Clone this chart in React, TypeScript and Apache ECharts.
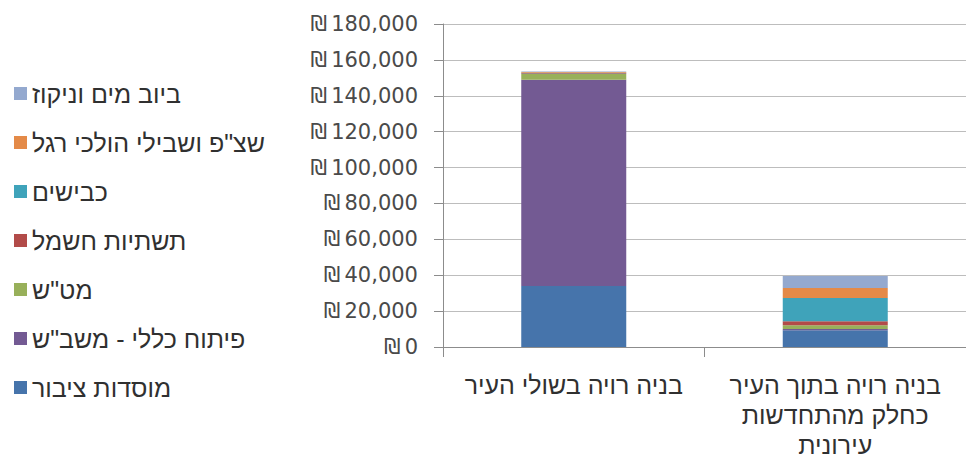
import React, { useEffect, useRef } from "react";
import * as echarts from "echarts";

const categories = [
  "בניה רויה בשולי העיר",
  "בניה רויה בתוך העיר\nכחלק מהתחדשות\nעירונית",
];

const seriesNames = [
  "מוסדות ציבור",
  "פיתוח כללי - משב\"ש",
  "מט\"ש",
  "תשתיות חשמל",
  "כבישים",
  "שצ\"פ ושבילי הולכי רגל",
  "ביוב מים וניקוז",
];

const publicInstitutions = [34000, 9300];
const generalDevelopment = [114900, 800];
const sewageTreatment = [3300, 2000];
const electricity = [300, 2200];
const roads = [300, 13000];
const openSpaces = [400, 5600];
const waterSewage = [300, 6600];

const seriesValues = [
  publicInstitutions,
  generalDevelopment,
  sewageTreatment,
  electricity,
  roads,
  openSpaces,
  waterSewage,
];

const colors = ["#4674AB", "#735A93", "#98B05A", "#B24B49", "#3FA3BA", "#E48A48", "#94A9CF"];

const yMin = 0;
const yMax = 180000;
const yInterval = 20000;

const HEB = "'Liberation Sans', Arial, sans-serif";
const NUM = "'DejaVu Sans', sans-serif";

export default function App() {
  const ref = useRef<HTMLDivElement>(null);

  useEffect(() => {
    if (!ref.current) return;
    const chart = echarts.init(ref.current, undefined, { renderer: "svg" });
    chart.setOption({
      animation: false,
      backgroundColor: "#ffffff",
      color: colors,
      textStyle: { fontFamily: HEB },
      legend: {
        orient: "vertical",
        left: 14,
        top: 81,
        padding: 0,
        icon: "rect",
        itemWidth: 13,
        itemHeight: 13,
        itemGap: 24,
        data: [...seriesNames].reverse(),
        textStyle: {
          fontFamily: HEB,
          fontSize: 25,
          lineHeight: 24,
          color: "#303030",
        },
      },
      grid: {
        left: 443,
        top: 24,
        width: 528,
        bottom: 108,
        containLabel: false,
      },
      xAxis: {
        type: "category",
        data: categories,
        axisLine: { lineStyle: { color: "#8c8c8c", width: 1 } },
        axisTick: { show: true, length: 10, lineStyle: { color: "#8c8c8c" } },
        axisLabel: {
          interval: 0,
          margin: 23,
          fontFamily: HEB,
          fontSize: 25,
          lineHeight: 30,
          color: "#303030",
          align: "center",
        },
        splitLine: { show: false },
      },
      yAxis: {
        type: "value",
        min: yMin,
        max: yMax,
        interval: yInterval,
        axisLine: { show: true, lineStyle: { color: "#8c8c8c", width: 1 } },
        axisTick: { show: true, length: 9, lineStyle: { color: "#8c8c8c" } },
        axisLabel: {
          margin: 25,
          fontFamily: NUM,
          fontSize: 21,
          color: "#4a4a4a",
          formatter: (v: number) => "₪\u2009" + v.toLocaleString("en-US"),
        },
        splitLine: { show: true, lineStyle: { color: "#bdbdbd", width: 1 } },
      },
      series: seriesNames.map((name, i) => ({
        name,
        type: "bar",
        stack: "total",
        barWidth: 105,
        data: seriesValues[i],
        itemStyle: { color: colors[i] },
      })),
    });
    return () => chart.dispose();
  }, []);

  return (
    <div
      ref={ref}
      style={{ position: "fixed", left: 0, top: 0, width: 966, height: 460 }}
    />
  );
}
